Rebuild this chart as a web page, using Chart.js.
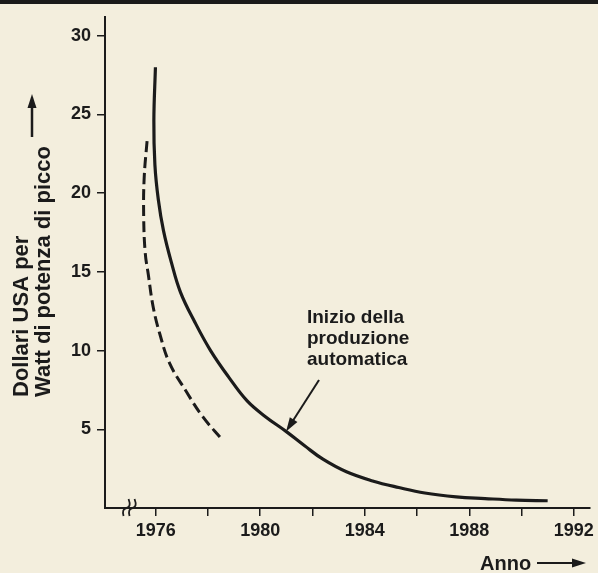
<!DOCTYPE html>
<html>
<head>
<meta charset="utf-8">
<script src="https://cdn.jsdelivr.net/npm/chart.js@4.4.1/dist/chart.umd.min.js"></script>
<style>
html, body { margin: 0; padding: 0; background: #f3eedd; }
#wrap { width: 598px; height: 573px; }
</style>
</head>
<body>
<div id="wrap"><canvas id="costChart" width="598" height="573"></canvas></div>
<script>
// values (year, US$ per peak watt)
const solidYears = [1975.99, 1975.93, 1975.97, 1976.1, 1976.3, 1976.6, 1976.95, 1977.5, 1978.1, 1978.8, 1979.5, 1980.2, 1981.0, 1981.7, 1982.4, 1983.3, 1984.3, 1985.3, 1986.3, 1987.5, 1988.6, 1989.8, 1991.0];
const solidCost  = [28.0, 24.6, 21.8, 19.6, 17.6, 15.6, 13.7, 11.8, 10.0, 8.3, 6.8, 5.8, 4.85, 3.95, 3.1, 2.3, 1.72, 1.3, 0.95, 0.71, 0.6, 0.5, 0.46];
const dashedYears = [1975.67, 1975.56, 1975.54, 1975.6, 1975.72, 1975.9, 1976.15, 1976.53, 1977.17, 1977.8, 1978.54];
const dashedCost  = [23.3, 21.0, 18.5, 16.2, 14.8, 12.8, 11.1, 9.2, 7.4, 5.8, 4.35];

const tickYears = [1976, 1978, 1980, 1982, 1984, 1986, 1988, 1990, 1992];
const labelYears = [1976, 1980, 1984, 1988, 1992];
const costTicks = [5, 10, 15, 20, 25, 30];

const yTitleLines = ['Dollari USA per', 'Watt di potenza di picco'];
const xTitle = 'Anno';
const noteLines = ['Inizio della', 'produzione', 'automatica'];

// annotation anchors in data units
const noteAt = { year: 1981.79, cost: 11.73 };
const arrowFrom = { year: 1982.25, cost: 8.13 };
const arrowTo = { year: 1980.99, cost: 4.86 };
const breakYear = 1975.0;

const ink = '#1b1b1b';
const tickFont = { family: "'Liberation Sans', Arial, sans-serif", size: 18, weight: 'bold' };

function arrowHead(ctx, x1, y1, x2, y2, len, half) {
    const a = Math.atan2(y2 - y1, x2 - x1);
    ctx.beginPath();
    ctx.moveTo(x2, y2);
    ctx.lineTo(x2 - len * Math.cos(a) + half * Math.sin(a), y2 - len * Math.sin(a) - half * Math.cos(a));
    ctx.lineTo(x2 - len * Math.cos(a) - half * Math.sin(a), y2 - len * Math.sin(a) + half * Math.cos(a));
    ctx.closePath();
    ctx.fill();
}

const paperPlugin = {
    id: 'paper',
    beforeDraw(chart) {
        const ctx = chart.ctx;
        ctx.save();
        ctx.fillStyle = '#f3eedd';
        ctx.fillRect(0, 0, chart.width, chart.height);
        ctx.fillStyle = '#1a1a1a';
        ctx.fillRect(0, 0, chart.width, 4);
        ctx.restore();
    }
};

const notesPlugin = {
    id: 'notes',
    afterDraw(chart) {
        const ctx = chart.ctx;
        const xs = chart.scales.x, ys = chart.scales.y;
        const area = chart.chartArea;
        ctx.save();
        ctx.fillStyle = ink;
        ctx.strokeStyle = ink;

        // note text
        ctx.font = "bold 19px 'Liberation Sans', Arial, sans-serif";
        ctx.textAlign = 'left';
        ctx.textBaseline = 'alphabetic';
        const nx = xs.getPixelForValue(noteAt.year), ny = ys.getPixelForValue(noteAt.cost);
        noteLines.forEach((t, i) => ctx.fillText(t, nx, ny + i * 21));

        // pointer arrow
        const ax1 = xs.getPixelForValue(arrowFrom.year), ay1 = ys.getPixelForValue(arrowFrom.cost);
        const ax2 = xs.getPixelForValue(arrowTo.year), ay2 = ys.getPixelForValue(arrowTo.cost);
        const ang = Math.atan2(ay2 - ay1, ax2 - ax1);
        ctx.lineWidth = 2;
        ctx.beginPath();
        ctx.moveTo(ax1, ay1);
        ctx.lineTo(ax2 - 10 * Math.cos(ang), ay2 - 10 * Math.sin(ang));
        ctx.stroke();
        arrowHead(ctx, ax1, ay1, ax2, ay2, 14, 4.5);

        // axis break mark
        const bx = xs.getPixelForValue(breakYear), by = area.bottom;
        ctx.lineWidth = 1.8;
        [-3, 3].forEach(dx => {
            ctx.beginPath();
            ctx.moveTo(bx + dx - 3, by + 8);
            ctx.quadraticCurveTo(bx + dx - 5, by + 1, bx + dx, by);
            ctx.quadraticCurveTo(bx + dx + 5, by - 1, bx + dx + 2, by - 9);
            ctx.stroke();
        });

        // y title, rotated, starting from the bottom
        ctx.save();
        ctx.translate(0, 397);
        ctx.rotate(-Math.PI / 2);
        ctx.font = "bold 22px 'Liberation Sans', Arial, sans-serif";
        ctx.textAlign = 'left';
        ctx.fillText(yTitleLines[0], 0, 28);
        ctx.fillText(yTitleLines[1], 0, 50);
        ctx.restore();
        ctx.lineWidth = 2.5;
        ctx.beginPath();
        ctx.moveTo(32, 137);
        ctx.lineTo(32, 104);
        ctx.stroke();
        arrowHead(ctx, 32, 137, 32, 94, 14, 4.5);

        // x title with arrow
        ctx.font = "bold 20px 'Liberation Sans', Arial, sans-serif";
        ctx.fillText(xTitle, 480, 570);
        ctx.lineWidth = 2;
        ctx.beginPath();
        ctx.moveTo(537, 563);
        ctx.lineTo(574, 563);
        ctx.stroke();
        arrowHead(ctx, 537, 563, 586, 563, 14, 4.5);
        ctx.restore();
    }
};

const data = {
    datasets: [{
        label: 'costo',
        data: solidYears.map((y, i) => ({ x: y, y: solidCost[i] })),
        borderColor: ink,
        borderWidth: 3.2,
        tension: 0.4,
        pointRadius: 0,
        fill: false
    }, {
        label: 'costo (tratteggiato)',
        data: dashedYears.map((y, i) => ({ x: y, y: dashedCost[i] })),
        borderColor: ink,
        borderWidth: 3,
        borderDash: [11, 5],
        tension: 0.4,
        pointRadius: 0,
        fill: false
    }]
};

const config = {
    type: 'line',
    data: data,
    plugins: [paperPlugin, notesPlugin],
    options: {
        responsive: false,
        animation: false,
        devicePixelRatio: 1,
        layout: { padding: { top: 14, right: 6, bottom: 0, left: 0 } },
        plugins: { legend: { display: false }, tooltip: { enabled: false } },
        scales: {
            x: {
                type: 'linear',
                min: 1974.06,
                max: 1992.6,
                border: { display: true, color: ink, width: 2 },
                grid: { drawOnChartArea: false, drawTicks: true, tickLength: 8, color: ink, lineWidth: 1.5 },
                ticks: {
                    color: ink, font: tickFont, padding: 4, autoSkip: false, maxRotation: 0,
                    callback: v => labelYears.includes(v) ? String(v) : ''
                },
                afterBuildTicks: s => { s.ticks = tickYears.map(v => ({ value: v })); },
                afterFit: s => { s.height = 65; }
            },
            y: {
                min: 0,
                max: 31.2,
                border: { display: true, color: ink, width: 2 },
                grid: { drawOnChartArea: false, drawTicks: true, tickLength: 8, color: ink, lineWidth: 1.5 },
                ticks: { color: ink, font: tickFont, padding: 6, autoSkip: false },
                afterBuildTicks: s => { s.ticks = costTicks.map(v => ({ value: v })); },
                afterFit: s => { s.width = 105; }
            }
        }
    }
};

const ctx = document.getElementById('costChart').getContext('2d');
new Chart(ctx, config);
</script>
</body>
</html>
